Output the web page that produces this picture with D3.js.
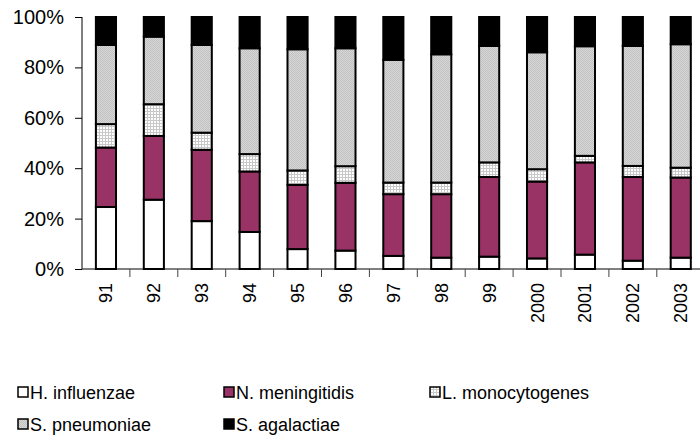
<!DOCTYPE html>
<html>
<head>
<meta charset="utf-8">
<script src="https://cdn.jsdelivr.net/npm/d3@7"></script>
<style>
  body { margin: 0; background: #fff; }
  svg { font-family: "Liberation Sans", Arial, sans-serif; }
</style>
</head>
<body>
<script>
var w = 700;
var h = 437;

var years = ["91", "92", "93", "94", "95", "96", "97", "98", "99", "2000", "2001", "2002", "2003"];
var seriesNames = ["H. influenzae", "N. meningitidis", "L. monocytogenes", "S. pneumoniae", "S. agalactiae"];

// percentages per year
var hInfluenzae   = [24.6, 27.5, 19.0, 14.7, 7.9, 7.3, 5.2, 4.5, 4.9, 4.2, 5.7, 3.3, 4.5];
var nMeningitidis = [23.6, 25.3, 28.3, 24.0, 25.5, 26.9, 24.5, 25.2, 31.6, 30.5, 36.6, 33.2, 31.8];
var lMonocyto     = [9.3, 12.6, 6.8, 6.9, 5.7, 6.6, 4.6, 4.6, 5.8, 4.9, 2.6, 4.4, 3.9];
var sPneumoniae   = [31.4, 26.8, 34.8, 42.0, 48.1, 46.8, 48.7, 50.9, 46.2, 46.4, 43.5, 47.6, 49.0];
var sAgalactiae   = [11.1, 7.8, 11.1, 12.4, 12.8, 12.4, 17.0, 14.8, 11.5, 14.0, 11.6, 11.5, 10.8];

var yTicks = [0, 0.2, 0.4, 0.6, 0.8, 1];

var seriesValues = [hInfluenzae, nMeningitidis, lMonocyto, sPneumoniae, sAgalactiae];
var table = years.map(function(y, i) {
  var row = { year: y };
  seriesNames.forEach(function(s, j) { row[s] = seriesValues[j][i]; });
  return row;
});

var stack = d3.stack().keys(seriesNames).offset(d3.stackOffsetExpand);
var layers = stack(table);

var svg = d3.select("body").append("svg")
  .attr("width", w)
  .attr("height", h);

var defs = svg.append("defs");
// fine grid for L. monocytogenes
var mesh = defs.append("pattern")
  .attr("id", "mesh")
  .attr("patternUnits", "userSpaceOnUse")
  .attr("width", 3).attr("height", 3);
mesh.append("rect").attr("width", 3).attr("height", 3).attr("fill", "#fff");
mesh.append("rect").attr("width", 3).attr("height", 1).attr("fill", "#c8c8c8");
mesh.append("rect").attr("width", 1).attr("height", 3).attr("fill", "#c8c8c8");
// checkered light gray for S. pneumoniae
var grey = defs.append("pattern")
  .attr("id", "grey")
  .attr("patternUnits", "userSpaceOnUse")
  .attr("width", 2).attr("height", 2);
grey.append("rect").attr("width", 2).attr("height", 2).attr("fill", "#d6d6d6");
grey.append("rect").attr("width", 1).attr("height", 1).attr("fill", "#c2c2c2");
grey.append("rect").attr("x", 1).attr("y", 1).attr("width", 1).attr("height", 1).attr("fill", "#c2c2c2");

var fills = ["#ffffff", "#993366", "url(#mesh)", "url(#grey)", "#000000"];
var color = d3.scaleOrdinal().domain(seriesNames).range(fills);

var xScale = d3.scaleBand()
  .domain(years)
  .range([82, 82 + 13 * 47.9])
  .paddingInner(0.58)
  .paddingOuter(0.29);

var yScale = d3.scaleLinear()
  .domain([0, 1])
  .range([269, 17]);

svg.selectAll("g.layer")
  .data(layers)
  .enter()
  .append("g")
  .attr("class", "layer")
  .attr("fill", function(d) { return color(d.key); })
  .selectAll("rect")
  .data(function(d) { return d; })
  .enter()
  .append("rect")
  .attr("x", function(d) { return xScale(d.data.year); })
  .attr("y", function(d) { return yScale(d[1]); })
  .attr("width", xScale.bandwidth())
  .attr("height", function(d) { return yScale(d[0]) - yScale(d[1]); })
  .attr("stroke", "#000")
  .attr("stroke-width", 2);

// y axis
var yAxis = d3.axisLeft(yScale)
  .tickValues(yTicks)
  .tickFormat(d3.format(".0%"))
  .tickSize(7)
  .tickPadding(11);

var gy = svg.append("g")
  .attr("transform", "translate(82, 0)")
  .call(yAxis);
gy.select(".domain").attr("stroke", "#000").attr("d", "M0,17V269");
gy.selectAll("text").attr("font-size", 20).attr("fill", "#000")
  .attr("font-family", "Liberation Sans, Arial, sans-serif");
gy.selectAll("line").attr("stroke", "#000");

// x axis with ticks between categories
var gx = svg.append("g").attr("transform", "translate(0, 269)");
gx.append("line")
  .attr("x1", 82).attr("x2", w)
  .attr("stroke", "#000");
var bounds = years.map(function(y) { return xScale(y) - xScale.step() * xScale.paddingOuter(); });
gx.selectAll("line.tick")
  .data(bounds.slice(1))
  .enter()
  .append("line")
  .attr("class", "tick")
  .attr("x1", function(d) { return d; })
  .attr("x2", function(d) { return d; })
  .attr("y1", 0).attr("y2", 8)
  .attr("stroke", "#444");
gx.selectAll("text")
  .data(years)
  .enter()
  .append("text")
  .attr("transform", function(d) {
    return "translate(" + (xScale(d) + xScale.bandwidth() / 2 + 6.5) + ",14) rotate(-90)";
  })
  .attr("text-anchor", "end")
  .attr("font-size", 18)
  .text(function(d) { return d; });

// legend
var legendPos = [[18, 392], [224, 392], [430, 392], [18, 424], [224, 424]];
var lg = svg.selectAll("g.legend")
  .data(seriesNames)
  .enter()
  .append("g")
  .attr("class", "legend")
  .attr("transform", function(d, i) { return "translate(" + legendPos[i][0] + "," + legendPos[i][1] + ")"; });
lg.append("rect")
  .attr("x", 0).attr("y", -5)
  .attr("width", 10).attr("height", 10)
  .attr("fill", function(d) { return color(d); })
  .attr("stroke", "#000")
  .attr("stroke-width", 1.5);
lg.append("text")
  .attr("x", 12)
  .attr("y", 6.5)
  .attr("font-size", 18)
  .text(function(d) { return d; });
</script>
</body>
</html>
